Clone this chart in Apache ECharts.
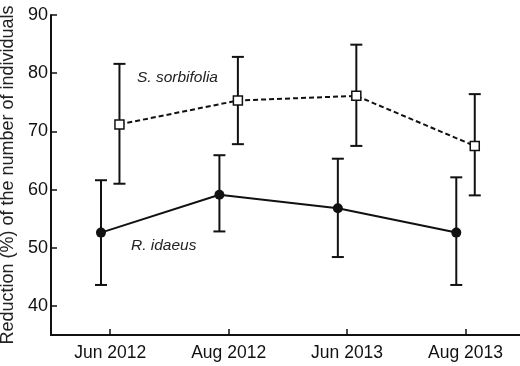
<!DOCTYPE html>
<html>
<head>
<meta charset="utf-8">
<script src="https://cdn.jsdelivr.net/npm/echarts@6/dist/echarts.min.js"></script>
<style>
  html, body { margin: 0; padding: 0; background: #fff; }
  #chart { width: 520px; height: 366px; }
</style>
</head>
<body>
<div id="chart"></div>
<script>
// Sampling dates (x categories)
const categories = ['Jun 2012', 'Aug 2012', 'Jun 2013', 'Aug 2013'];

// Rubus idaeus: mean reduction and error-bar limits
const idaeusMean = [52.6, 59.1, 56.8, 52.6];
const idaeusLow  = [43.6, 52.8, 48.4, 43.6];
const idaeusHigh = [61.6, 65.9, 65.3, 62.1];

// Sorbaria sorbifolia: mean reduction and error-bar limits
const sorbMean = [71.2, 75.3, 76.1, 67.5];
const sorbLow  = [61.0, 67.8, 67.5, 59.0];
const sorbHigh = [81.6, 82.8, 84.9, 76.4];

// Y tick labels
const yTicks = [40, 50, 60, 70, 80, 90];

// Horizontal dodge of the two species around each date
const dodge = 0.078;

const FONT = 'Liberation Sans, Arial, sans-serif';

function pointData(means, shift) {
  return means.map((v, i) => [i + shift, v]);
}
function barData(low, high, shift) {
  return low.map((lo, i) => [i + shift, lo, high[i]]);
}

function errorBarItem(params, api) {
  const x = api.value(0);
  const lo = api.coord([x, api.value(1)]);
  const hi = api.coord([x, api.value(2)]);
  const half = 6;
  const style = { stroke: '#111', lineWidth: 2 };
  return {
    type: 'group',
    children: [
      { type: 'line', shape: { x1: lo[0], y1: lo[1], x2: hi[0], y2: hi[1] }, style },
      { type: 'line', shape: { x1: lo[0] - half, y1: lo[1], x2: lo[0] + half, y2: lo[1] }, style },
      { type: 'line', shape: { x1: hi[0] - half, y1: hi[1], x2: hi[0] + half, y2: hi[1] }, style }
    ]
  };
}

const chart = echarts.init(document.getElementById('chart'), null, { renderer: 'canvas' });

chart.setOption({
  animation: false,
  backgroundColor: '#fff',
  grid: { left: 51, right: 0, top: 15, bottom: 31, containLabel: false, outerBoundsMode: 'none' },
  xAxis: {
    type: 'value',
    min: -0.5,
    max: 3.46,
    splitLine: { show: false },
    axisLine: { show: true, onZero: false, lineStyle: { color: '#111', width: 2 } },
    axisTick: {
      show: true, inside: true, length: 6,
      customValues: categories.map((c, i) => i),
      lineStyle: { color: '#111', width: 1.5 }
    },
    axisLabel: {
      show: true,
      customValues: categories.map((c, i) => i),
      formatter: v => categories[Math.round(v)] || '',
      color: '#111', fontFamily: FONT, fontSize: 17.5, margin: 9
    }
  },
  yAxis: {
    type: 'value',
    min: 35,
    max: 90,
    name: 'Reduction (%) of the number of individuals',
    nameLocation: 'middle',
    nameRotate: 90,
    nameGap: 34,
    nameTextStyle: { color: '#222', fontFamily: FONT, fontSize: 18 },
    splitLine: { show: false },
    axisLine: { show: true, onZero: false, lineStyle: { color: '#111', width: 2 } },
    axisTick: {
      show: true, inside: true, length: 6,
      customValues: yTicks,
      lineStyle: { color: '#111', width: 1.5 }
    },
    axisLabel: {
      show: true,
      customValues: yTicks,
      color: '#111', fontFamily: FONT, fontSize: 18, margin: 3
    }
  },
  series: [
    {
      name: 'S. sorbifolia bars',
      type: 'custom',
      renderItem: errorBarItem,
      data: barData(sorbLow, sorbHigh, dodge),
      z: 2
    },
    {
      name: 'R. idaeus bars',
      type: 'custom',
      renderItem: errorBarItem,
      data: barData(idaeusLow, idaeusHigh, -dodge),
      z: 2
    },
    {
      name: 'S. sorbifolia',
      type: 'line',
      data: pointData(sorbMean, dodge),
      symbol: 'rect',
      symbolSize: 9,
      lineStyle: { color: '#111', width: 2, type: [5, 3] },
      itemStyle: { color: '#fff', borderColor: '#111', borderWidth: 1.5 },
      z: 3
    },
    {
      name: 'R. idaeus',
      type: 'line',
      data: pointData(idaeusMean, -dodge),
      symbol: 'circle',
      symbolSize: 10,
      lineStyle: { color: '#111', width: 2 },
      itemStyle: { color: '#111', borderColor: '#111', borderWidth: 0 },
      z: 3
    }
  ],
  graphic: [
    {
      type: 'text', left: 137, top: 70,
      style: { text: 'S. sorbifolia', fontFamily: FONT, fontSize: 15.5, fontStyle: 'italic', fill: '#222' }
    },
    {
      type: 'text', left: 131, top: 238,
      style: { text: 'R. idaeus', fontFamily: FONT, fontSize: 15.5, fontStyle: 'italic', fill: '#222' }
    }
  ]
});
</script>
</body>
</html>
